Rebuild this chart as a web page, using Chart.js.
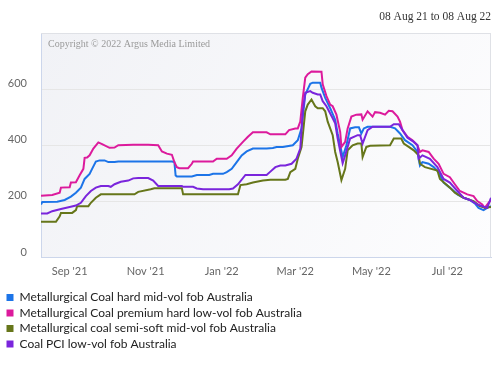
<!DOCTYPE html>
<html><head><meta charset="utf-8">
<script src="https://cdn.jsdelivr.net/npm/chart.js@4.4.1/dist/chart.umd.min.js"></script>
<style>html,body{margin:0;padding:0;background:#fff}#wrap{width:500px;height:368px;position:relative}</style>
</head><body><div id="wrap"><canvas id="c"></canvas></div>
<script>
const rangeLabel = "08 Aug 21 to 08 Aug 22";
const copyrightText = "Copyright \u00a9 2022 Argus Media Limited";
const seriesNames = [
  "Metallurgical Coal hard mid-vol fob Australia",
  "Metallurgical Coal premium hard low-vol fob Australia",
  "Metallurgical coal semi-soft mid-vol fob Australia",
  "Coal PCI low-vol fob Australia"
];
const seriesColors = ["#1c74e8", "#dc1a9c", "#66761a", "#7a25dc"];
// x values: days since 08 Aug 2021
const xMinDay = 1, xMaxDay = 362;
const xTickDays = [24, 85, 146, 205, 266, 327];
const xTickLabels = ["Sep '21", "Nov '21", "Jan '22", "Mar '22", "May '22", "Jul '22"];
const yTickValues = [0, 200, 400, 600];

const hardMidVol = [[1,189],[2,198],[14,199],[20,205],[25,217],[29,231],[33,249],[36,280],[40,298],[42,316],[45,342],[48,346],[52,346],[55,340],[60,340],[63,342],[106,342],[108,340],[109,292],[110,289],[122,289],[126,294],[136,294],[139,298],[147,298],[150,304],[154,316],[158,340],[162,364],[166,378],[171,388],[182,388],[187,390],[190,394],[195,394],[203,400],[207,418],[210,460],[213,581],[217,619],[219,623],[225,623],[226,605],[229,569],[233,532],[237,491],[239,442],[243,358],[246,400],[249,460],[253,464],[256,464],[258,442],[260,460],[263,466],[277,466],[281,466],[285,460],[289,442],[293,418],[299,400],[303,376],[305,328],[307,340],[312,334],[316,322],[320,304],[324,267],[329,249],[335,225],[340,213],[345,205],[349,193],[352,177],[356,169],[359,177],[362,183]];
const premiumLowVol = [[1,220],[10,223],[16,231],[17,249],[24,250],[25,267],[29,268],[32,293],[35,316],[36,355],[38,356],[40,364],[43,388],[47,410],[50,404],[56,391],[60,392],[63,400],[75,402],[87,402],[95,400],[98,378],[102,370],[106,366],[108,340],[110,322],[112,318],[119,318],[122,334],[123,342],[139,342],[142,352],[150,352],[154,364],[158,388],[163,412],[167,430],[171,446],[182,446],[185,439],[197,439],[200,454],[205,460],[207,460],[209,484],[211,569],[213,641],[215,653],[218,663],[226,662],[227,617],[230,575],[233,545],[235,539],[238,509],[241,448],[242,394],[245,412],[247,460],[250,502],[254,509],[258,510],[259,491],[263,521],[267,502],[269,518],[273,516],[277,509],[280,523],[283,521],[287,502],[289,484],[291,454],[295,430],[299,418],[303,400],[305,376],[307,382],[312,376],[316,352],[320,334],[324,298],[329,286],[333,261],[337,237],[343,225],[348,219],[351,201],[355,189],[357,177],[360,195],[362,205]];
const semiSoftMidVol = [[1,127],[13,127],[16,147],[17,159],[26,159],[29,169],[30,183],[39,183],[41,195],[45,213],[49,225],[76,225],[79,234],[89,243],[92,247],[114,247],[115,225],[159,225],[161,258],[166,261],[171,267],[179,274],[185,277],[197,277],[199,280],[201,304],[205,316],[207,352],[210,394],[213,521],[215,545],[218,563],[221,539],[223,532],[227,532],[229,521],[231,484],[235,436],[237,376],[239,340],[242,276],[245,316],[247,382],[251,400],[255,406],[258,406],[259,358],[262,394],[265,398],[281,400],[284,424],[290,424],[292,406],[296,394],[300,382],[304,364],[305,334],[309,322],[319,310],[321,280],[329,249],[333,231],[340,213],[348,201],[353,183],[357,177],[362,180]];
const pciLowVol = [[1,157],[6,157],[10,165],[17,173],[24,180],[29,185],[33,195],[37,219],[41,237],[45,249],[49,255],[55,255],[57,252],[60,261],[65,270],[71,274],[75,282],[79,283],[87,283],[91,274],[95,255],[114,255],[115,252],[123,252],[126,246],[131,243],[152,243],[155,246],[159,261],[165,294],[182,294],[185,306],[189,322],[193,328],[197,328],[202,334],[206,352],[209,388],[211,521],[213,587],[217,593],[219,587],[223,581],[225,581],[227,557],[230,539],[235,496],[237,478],[239,424],[243,336],[245,364],[249,424],[255,436],[257,436],[259,406],[263,454],[267,466],[281,466],[284,475],[288,475],[291,454],[295,427],[300,412],[303,400],[304,352],[307,364],[313,352],[319,322],[324,280],[329,267],[335,237],[340,213],[345,205],[351,189],[356,181],[359,177],[362,213]];

const seriesData = [hardMidVol, premiumLowVol, semiSoftMidVol, pciLowVol];

const plotDecor = {
  id: 'plotDecor',
  beforeDatasetsDraw(chart) {
    const {ctx, chartArea: a} = chart;
    ctx.save();
    ctx.strokeStyle = '#dfe1e6';
    ctx.lineWidth = 1;
    ctx.beginPath();
    ctx.moveTo(a.left, a.top + 0.5);
    ctx.lineTo(a.right, a.top + 0.5);
    ctx.moveTo(a.right - 0.5, a.top);
    ctx.lineTo(a.right - 0.5, a.bottom);
    ctx.stroke();
    ctx.font = '10px "Liberation Serif"';
    ctx.fillStyle = '#9a9a9a';
    ctx.textBaseline = 'middle';
    ctx.textAlign = 'left';
    ctx.fillText(copyrightText, a.left + 7, a.top + 11.5);
    ctx.restore();
  },
  beforeDraw(chart) {
    const {ctx, chartArea: a} = chart;
    ctx.save();
    const g = ctx.createLinearGradient(a.left, a.top, a.right, a.bottom);
    g.addColorStop(0, '#f1f2f6');
    g.addColorStop(1, '#fdfdfe');
    ctx.fillStyle = g;
    ctx.fillRect(a.left, a.top, a.right - a.left, a.bottom - a.top);
    ctx.restore();
  }
};

new Chart(document.getElementById('c'), {
  type: 'line',
  data: {
    datasets: seriesData.map((d, i) => ({
      label: seriesNames[i],
      data: d.map(p => ({x: p[0], y: p[1]})),
      borderColor: seriesColors[i],
      backgroundColor: seriesColors[i],
      borderWidth: 2,
      pointRadius: 0,
      tension: 0,
      order: 4 - i
    }))
  },
  options: {
    responsive: true,
    maintainAspectRatio: false,
    animation: false,
    layout: {padding: {left: 3, right: 9, top: 0, bottom: 8}},
    plugins: {
      tooltip: {enabled: false},
      title: {
        display: true, text: rangeLabel, align: 'end', color: '#333',
        font: {family: '"Liberation Serif"', size: 11.5, weight: 'normal', lineHeight: 1.2},
        padding: {top: 10, bottom: 9.2}
      },
      legend: {
        position: 'bottom', align: 'start',
        labels: {
          boxWidth: 7, boxHeight: 7, padding: 3.5, color: '#222',
          font: {family: 'Lato', size: 12},
          sort: (a, b) => a.datasetIndex - b.datasetIndex,
          generateLabels(chart) {
            const items = Chart.defaults.plugins.legend.labels.generateLabels(chart);
            items.forEach(it => { it.text = it.text + '\u00a0'.repeat(60); it.lineWidth = 0; it.strokeStyle = 'rgba(0,0,0,0)'; });
            return items;
          }
        }
      }
    },
    scales: {
      x: {
        type: 'linear', min: xMinDay, max: xMaxDay,
        grid: {display: false, drawTicks: false},
        border: {display: true, color: '#ccd6eb', width: 1},
        afterBuildTicks(scale) { scale.ticks = xTickDays.map(v => ({value: v})); },
        afterFit(scale) { scale.height = 30.5; },
        ticks: {
          autoSkip: false, maxRotation: 0, padding: 7.5, color: '#666',
          font: {family: 'Lato', size: 11},
          callback: (v) => { const k = xTickDays.indexOf(v); return k >= 0 ? xTickLabels[k] : ''; }
        }
      },
      y: {
        min: 0, max: 800,
        afterBuildTicks(scale) { scale.ticks = yTickValues.concat([800]).map(v => ({value: v})); },
        afterFit(scale) { scale.width = 38; },
        grid: {color: '#e6e6e6', drawTicks: false},
        border: {display: true, color: '#ccd6eb', width: 1},
        ticks: {
          padding: 14, labelOffset: -5.5, color: '#666',
          font: {family: 'Lato', size: 11},
          callback: (v) => yTickValues.includes(v) ? String(v) : ''
        }
      }
    }
  },
  plugins: [plotDecor]
});
</script></body></html>
